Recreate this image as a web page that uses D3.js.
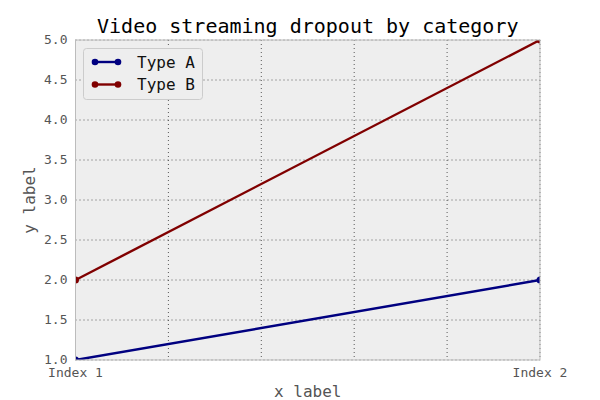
<!DOCTYPE html>
<html><head><meta charset="utf-8">
<script src="https://cdn.jsdelivr.net/npm/d3@7"></script>
<style>body{margin:0;background:#fff}</style>
</head><body><svg id="c" width="600" height="400"></svg>
<script>
const categories = ["Index 1", "Index 2"];
const xPositions = [0, 1];
const seriesNames = ["Type A", "Type B"];
const typeA = [1.0, 2.0];
const typeB = [2.0, 5.0];
const colors = ["#000080", "#800000"];
const yTicks = [1.0, 1.5, 2.0, 2.5, 3.0, 3.5, 4.0, 4.5, 5.0];
const xGridTicks = [0, 0.2, 0.4, 0.6, 0.8, 1.0];

const svg = d3.select("#c");
const m = {l: 75.5, r: 540, t: 40, b: 360};
const x = d3.scaleLinear().domain([0, 1]).range([m.l, m.r]);
const y = d3.scaleLinear().domain([1, 5]).range([m.b, m.t]);
const font = "DejaVu Sans Mono, monospace";

svg.append("defs").append("clipPath").attr("id","clip")
  .append("rect").attr("x", m.l).attr("y", m.t).attr("width", m.r-m.l).attr("height", m.b-m.t);

svg.append("rect").attr("x", m.l).attr("y", m.t).attr("width", m.r-m.l).attr("height", m.b-m.t)
  .attr("fill", "#eeeeee");

// grid
const g = svg.append("g");
g.selectAll("line.gx").data(xGridTicks).enter().append("line")
  .attr("x1", d=>x(d)).attr("x2", d=>x(d)).attr("y1", m.t).attr("y2", m.b)
  .attr("stroke", "#333").attr("stroke-width", 0.8).attr("stroke-dasharray", "1,3");
g.selectAll("line.gy").data(yTicks).enter().append("line")
  .attr("y1", d=>y(d)).attr("y2", d=>y(d)).attr("x1", m.l).attr("x2", m.r)
  .attr("stroke", "#333").attr("stroke-width", 0.8).attr("stroke-dasharray", "1,3");

// lines
const data = [typeA, typeB];
const line = d3.line().x((d,i)=>x(xPositions[i])).y(d=>y(d));
const pl = svg.append("g").attr("clip-path", "url(#clip)");
data.forEach((s, k) => {
  pl.append("path").datum(s).attr("d", line).attr("fill", "none")
    .attr("stroke", colors[k]).attr("stroke-width", 2.4);
  pl.selectAll(null).data(s).enter().append("circle")
    .attr("cx", (d,i)=>x(xPositions[i])).attr("cy", d=>y(d)).attr("r", 3.5)
    .attr("fill", colors[k]);
});

// frame
svg.append("rect").attr("x", m.l).attr("y", m.t).attr("width", m.r-m.l).attr("height", m.b-m.t)
  .attr("fill", "none").attr("stroke", "#bcbcbc").attr("stroke-width", 1);

// y axis labels
svg.selectAll("text.yt").data(yTicks).enter().append("text")
  .attr("x", m.l - 8).attr("y", d=>y(d)).attr("dy", "0.28em").attr("text-anchor", "end")
  .attr("font-family", font).attr("font-size", 13).attr("fill", "#555")
  .text(d=>d3.format(".1f")(d));

// x axis labels
svg.selectAll("text.xt").data(categories).enter().append("text")
  .attr("x", (d,i)=>x(xPositions[i])).attr("y", m.b + 17).attr("text-anchor", "middle")
  .attr("font-family", font).attr("font-size", 13).attr("fill", "#555")
  .text(d=>d);

// title
svg.append("text").attr("x", (m.l+m.r)/2).attr("y", 33).attr("text-anchor", "middle")
  .attr("font-family", font).attr("font-size", 20).attr("fill", "#000")
  .text("Video streaming dropout by category");

svg.append("text").attr("x", (m.l+m.r)/2).attr("y", 397).attr("text-anchor", "middle")
  .attr("font-family", font).attr("font-size", 16).attr("fill", "#555").text("x label");

svg.append("text").attr("transform", `translate(35,${(m.t+m.b)/2}) rotate(-90)`)
  .attr("text-anchor", "middle")
  .attr("font-family", font).attr("font-size", 16).attr("fill", "#555").text("y label");

// legend
const lg = svg.append("g");
lg.append("rect").attr("x", 83.5).attr("y", 48.5).attr("width", 119).attr("height", 51).attr("rx", 3)
  .attr("fill", "#eeeeee").attr("stroke", "#cccccc");
seriesNames.forEach((n, k) => {
  const yy = 62 + k*22.5;
  lg.append("line").attr("x1", 95).attr("x2", 118).attr("y1", yy).attr("y2", yy)
    .attr("stroke", colors[k]).attr("stroke-width", 2.4);
  [95, 118].forEach(xx => lg.append("circle").attr("cx", xx).attr("cy", yy).attr("r", 3.3).attr("fill", colors[k]));
  lg.append("text").attr("x", 137).attr("y", yy).attr("dy", "0.35em")
    .attr("font-family", font).attr("font-size", 16).attr("fill", "#111").text(n);
});
</script></body></html>
